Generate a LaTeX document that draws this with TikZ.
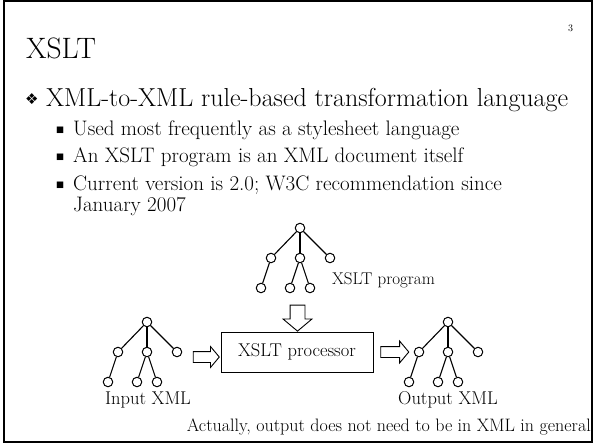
\documentclass[tikz,border=0pt]{standalone}
\usepackage{fontspec}
\newfontfamily\symfont{DejaVu Sans}
\usetikzlibrary{positioning,shapes.arrows}

\tikzset{
  leaf/.style={circle,draw,line width=1pt,minimum size=9.5pt,inner sep=0pt},
  branch/.style={line width=1.1pt},
  blockarrow/.style={single arrow,draw,line width=0.9pt,inner xsep=0pt,fill=white,
    single arrow tip angle=100},
  slidetext/.style={anchor=base west,inner sep=0pt,font=\fontsize{#1}{#1}\selectfont},
  label text/.style={inner sep=0pt,font=\fontsize{18.5}{18.5}\selectfont}
}

% one small xml tree: name prefix, root position
\newcommand{\xmltree}[2]{%
  \begin{scope}[shift={#2}]
    \node[leaf] (#1r) at (0,0) {};
    \node[leaf] (#1a) at (-29,30) {};
    \node[leaf] (#1b) at (0,30) {};
    \node[leaf] (#1c) at (30,30) {};
    \node[leaf] (#1d) at (-39,60) {};
    \node[leaf] (#1e) at (-10,60) {};
    \node[leaf] (#1f) at (10,60) {};
  \end{scope}
  \draw[branch] (#1r) -- (#1a);
  \draw[branch] (#1r) -- (#1b);
  \draw[branch] (#1r) -- (#1c);
  \draw[branch] (#1a) -- (#1d);
  \draw[branch] (#1b) -- (#1e);
  \draw[branch] (#1b) -- (#1f);
}

\begin{document}
\begin{tikzpicture}[x=1pt,y=-1pt]

  \useasboundingbox (0,0) rectangle (594,444);
  \draw[line width=2pt] (4,1.5) rectangle (591.5,441.5);

  % heading and bullets
  \node[slidetext=10] (page) at (568,32) {3};
  \node[slidetext=29.5] (title) at (26,59) {XSLT};
  \node[anchor=base west,inner sep=0pt,font=\symfont\fontsize{15}{15}\selectfont] (dia) at (25,104) {❖};
  \node[slidetext=26] (main) at (46,106) {XML-to-XML rule-based transformation language};
  \node[anchor=base west,inner sep=0pt,font=\symfont\fontsize{8.5}{8.5}\selectfont] (sq1) at (56,132) {■};
  \node[slidetext=21] (sub1) at (73,135) {Used most frequently as a stylesheet language};
  \node[anchor=base west,inner sep=0pt,font=\symfont\fontsize{8.5}{8.5}\selectfont] (sq2) at (56,159) {■};
  \node[slidetext=21] (sub2) at (73,162) {An XSLT program is an XML document itself};
  \node[anchor=base west,inner sep=0pt,font=\symfont\fontsize{8.5}{8.5}\selectfont] (sq3) at (56,187) {■};
  \node[slidetext=21] (sub3) at (73,190) {Current version is 2.0; W3C recommendation since};
  \node[slidetext=21] (sub3b) at (73,211) {January 2007};

  % trees
  \xmltree{prog}{(300,228)}
  \xmltree{in}{(147,322)}
  \xmltree{out}{(448,322)}

  \node[label text,anchor=west,font=\fontsize{17}{17}\selectfont] (progname) at (332,280) {XSLT program};
  \node[label text] (inname) at (148,400) {Input XML};
  \node[label text] (outname) at (448,400) {Output XML};

  % processor and arrows
  \node[draw,line width=0.9pt,minimum width=152pt,minimum height=40pt,
        label text] (proc) at (297,352) {XSLT processor};
  \node[blockarrow,minimum height=26pt,inner ysep=7pt,
        single arrow head extend=7pt,rotate=-90] (down) at (297.5,315) {};
  \node[blockarrow,minimum height=26pt,inner ysep=5pt,
        single arrow head extend=5pt] (toproc) at (204,357) {};
  \node[blockarrow,minimum height=28pt,inner ysep=5pt,
        single arrow head extend=5.5pt] (fromproc) at (392.5,352) {};

  \node[label text,anchor=base east,font=\fontsize{18}{18}\selectfont] (note) at (591,431)
    {Actually, output does not need to be in XML in general};

\end{tikzpicture}
\end{document}
